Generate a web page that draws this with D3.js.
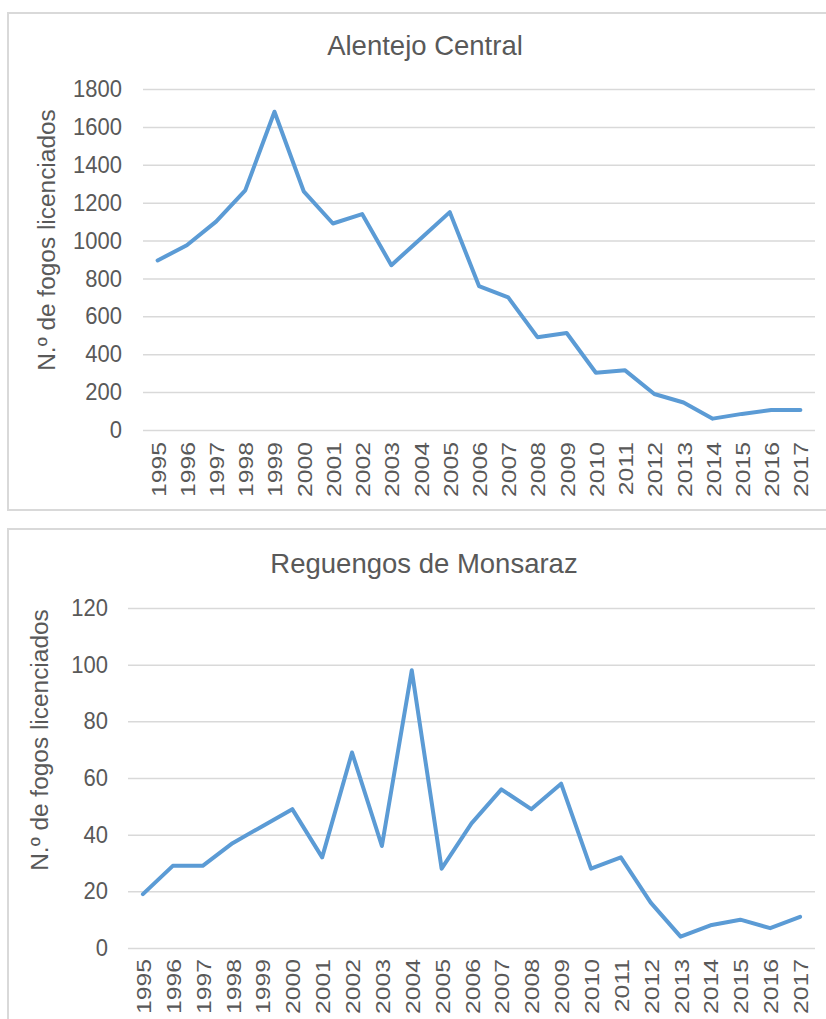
<!DOCTYPE html>
<html>
<head>
<meta charset="utf-8">
<script src="https://cdn.jsdelivr.net/npm/d3@7"></script>
<style>
  html, body { margin: 0; padding: 0; background: #fff; }
  svg { display: block; font-family: "Liberation Sans", Arial, sans-serif; }
</style>
</head>
<body>
<svg id="chart" width="826" height="1019"></svg>
<script>
// Licensed fires per year, 1995–2017
const years = ["1995","1996","1997","1998","1999","2000","2001","2002","2003","2004","2005","2006",
               "2007","2008","2009","2010","2011","2012","2013","2014","2015","2016","2017"];

const alentejoCentral = [895, 975, 1100, 1265, 1680, 1260, 1090, 1140, 870, 1010, 1150, 760,
                         700, 490, 512, 302, 315, 190, 145, 60, 85, 105, 105];
const alentejoTicks = [0, 200, 400, 600, 800, 1000, 1200, 1400, 1600, 1800];

const reguengos = [19, 29, 29, 37, 43, 49, 32, 69, 36, 98, 28, 44,
                   56, 49, 58, 28, 32, 16, 4, 8, 10, 7, 11];
const reguengosTicks = [0, 20, 40, 60, 80, 100, 120];

const yTitle = "N.º de fogos licenciados";

const TEXT = "#595959", GRID = "#d9d9d9", LINE = "#5b9bd5", FRAME = "#d9d9d9";

const svg = d3.select("#chart");

function panel(opts) {
  const g = svg.append("g");

  // chart area frame
  g.append("rect")
    .attr("x", opts.frame[0]).attr("y", opts.frame[1])
    .attr("width", opts.frame[2]).attr("height", opts.frame[3])
    .attr("fill", "#fff").attr("stroke", FRAME).attr("stroke-width", 2);

  // title
  g.append("text")
    .attr("x", opts.titleX).attr("y", opts.titleY)
    .attr("text-anchor", "middle")
    .attr("fill", TEXT).attr("font-size", 27.5)
    .text(opts.title);

  const x = d3.scalePoint().domain(years).range([opts.left, opts.right]).padding(0.5);
  const y = d3.scaleLinear().domain([0, d3.max(opts.ticks)]).range([opts.bottom, opts.top]);

  // horizontal gridlines with value labels
  const yAxis = d3.axisLeft(y).tickValues(opts.ticks)
    .tickSize(-(opts.right - opts.left)).tickPadding(opts.tickPad).tickFormat(d3.format("d"));
  const ya = g.append("g").attr("transform", `translate(${opts.left},0)`).call(yAxis);
  ya.select(".domain").remove();
  ya.selectAll(".tick line").attr("stroke", GRID).attr("stroke-width", 1.5);
  ya.selectAll(".tick text").attr("fill", TEXT).attr("font-size", 22)
    .attr("font-family", "Liberation Sans, Arial, sans-serif")
    .attr("transform", "scale(1,1.08)")
    .attr("dy", "0.32em");

  // year labels, rotated and slightly elongated
  const xAxis = d3.axisBottom(x).tickSize(0).tickPadding(0);
  const xa = g.append("g").attr("transform", `translate(0,${opts.bottom})`).call(xAxis);
  xa.select(".domain").remove();
  xa.selectAll(".tick text")
    .attr("fill", TEXT).attr("font-size", 21)
    .attr("font-family", "Liberation Sans, Arial, sans-serif")
    .attr("text-anchor", "end")
    .attr("dy", null)
    .attr("transform", `translate(7.5,${opts.xLabelGap}) rotate(-90) scale(1.18,1)`)
    .attr("x", 0).attr("y", 0);

  // y axis title
  g.append("text")
    .attr("transform", `translate(${opts.yTitleX},${opts.yTitleY}) rotate(-90) scale(1.04,1)`)
    .attr("text-anchor", "middle")
    .attr("fill", TEXT).attr("font-size", 23.5)
    .text(yTitle);

  // series line
  const line = d3.line().x((d, i) => x(years[i])).y(d => y(d));
  g.append("path")
    .datum(opts.values)
    .attr("d", line)
    .attr("fill", "none")
    .attr("stroke", LINE)
    .attr("stroke-width", 4)
    .attr("stroke-linejoin", "round")
    .attr("stroke-linecap", "round");
}

panel({
  frame: [8, 13, 830, 497],
  title: "Alentejo Central", titleX: 425, titleY: 55,
  left: 143, right: 815, top: 89, bottom: 430,
  ticks: alentejoTicks, values: alentejoCentral,
  tickPad: 21, xLabelGap: 12,
  yTitleX: 55, yTitleY: 240
});

panel({
  frame: [8, 529, 830, 500],
  title: "Reguengos de Monsaraz", titleX: 424, titleY: 573,
  left: 128, right: 815, top: 608, bottom: 948,
  ticks: reguengosTicks, values: reguengos,
  tickPad: 20, xLabelGap: 11,
  yTitleX: 48, yTitleY: 740
});
</script>
</body>
</html>
